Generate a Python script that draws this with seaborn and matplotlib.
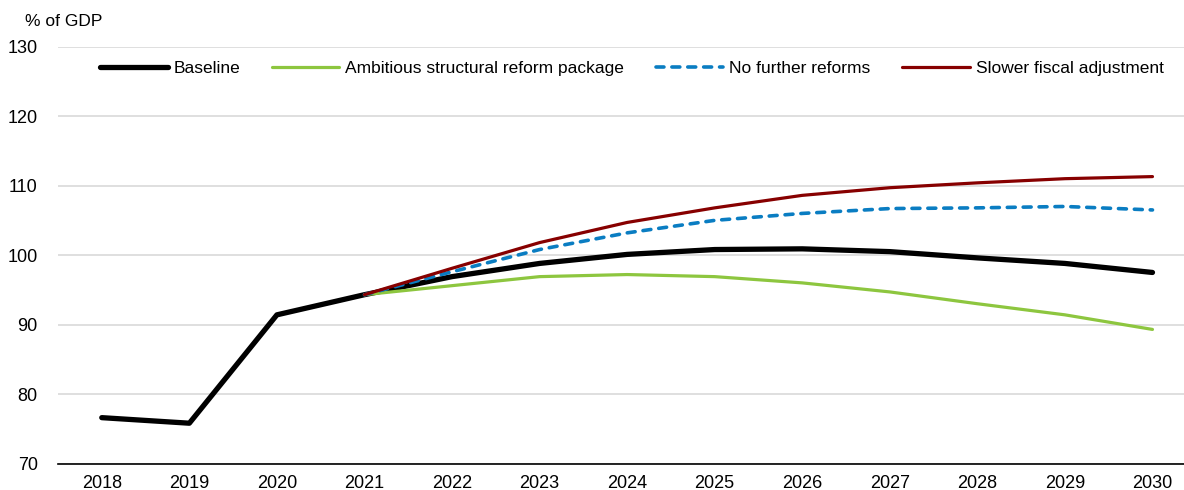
import matplotlib
matplotlib.use("Agg")
import matplotlib.pyplot as plt
import seaborn as sns
import pandas as pd
import numpy as np

years = [str(y) for y in range(2018, 2031)]
baseline = [76.6, 75.8, 91.4, 94.3, 96.9, 98.8, 100.1, 100.8, 100.9, 100.5, 99.6, 98.8, 97.5]
ambitious = [None, None, None, 94.3, 95.6, 96.9, 97.2, 96.9, 96.0, 94.7, 93.0, 91.4, 89.3]
no_further = [None, None, None, 94.3, 97.6, 100.8, 103.2, 105.0, 106.0, 106.7, 106.8, 107.0, 106.5]
slower = [None, None, None, 94.3, 98.1, 101.8, 104.7, 106.8, 108.6, 109.7, 110.4, 111.0, 111.3]

series_names = ["Baseline", "Ambitious structural reform package", "No further reforms", "Slower fiscal adjustment"]
series_vals = [baseline, ambitious, no_further, slower]
colors = ["#000000", "#8DC63F", "#0A7DC2", "#870000"]
widths = [3.8, 2.3, 2.6, 2.3]
styles = ["-", "-", (0, (2.2, 2.2)), "-"]
yticks = [70, 80, 90, 100, 110, 120, 130]

sns.set_theme(style="white")
plt.rcParams['font.family'] = ['Liberation Sans', 'DejaVu Sans']

fig = plt.figure(figsize=(11.84, 4.9), dpi=100)
ax = fig.add_axes([58/1184, 1 - 463.5/490, 1 - 58/1184 + 0.0, (463.5 - 46.7)/490])

x_idx = np.arange(len(years))
for name, vals, c, lw, ls in zip(series_names, series_vals, colors, widths, styles):
    df = pd.DataFrame({"x": x_idx, "y": vals}).dropna()
    sns.lineplot(data=df, x="x", y="y", ax=ax, color=c, linewidth=lw, label=name,
                 solid_capstyle="round")
    if not isinstance(ls, str):
        ax.lines[-1].set_linestyle(ls)
        ax.lines[-1].set_dash_capstyle("round")

ax.set_xlim(-0.5, 12.36)
ax.set_ylim(70, 130)
ax.set_yticks(yticks)
ax.set_yticklabels([str(v) for v in yticks])
ax.set_xticks(x_idx)
ax.set_xticklabels(years)
ax.set_xticks(np.arange(-0.5, 12.5, 1), minor=True)
ax.tick_params(axis="x", which="major", length=0, pad=8, labelsize=13, colors="#000000")
ax.tick_params(axis="x", which="minor", length=5, direction="in", width=1.2, color="#000000")
ax.tick_params(axis="y", length=0, pad=14.5, labelsize=13, colors="#000000")
ax.yaxis.grid(True, color="#d9d9d9", linewidth=1.2)
ax.set_axisbelow(True)
ax.set_xlabel("")
ax.set_ylabel("")
for s in ["left", "right", "top"]:
    ax.spines[s].set_visible(False)
ax.spines["bottom"].set_color("#000000")
ax.spines["bottom"].set_linewidth(1.2)

leg = ax.legend(loc="upper left", bbox_to_anchor=(0.031, 0.983), ncol=4, frameon=False,
                fontsize=12.5, handlelength=3.9, handletextpad=0.35, columnspacing=1.8,
                borderaxespad=0)
for t in leg.get_texts():
    t.set_color("#000000")

fig.text(25/1184, 1 - 22/490, "% of GDP", fontsize=12.5, va="center", ha="left", color="#000000")

fig.savefig("out.png", dpi=100)
